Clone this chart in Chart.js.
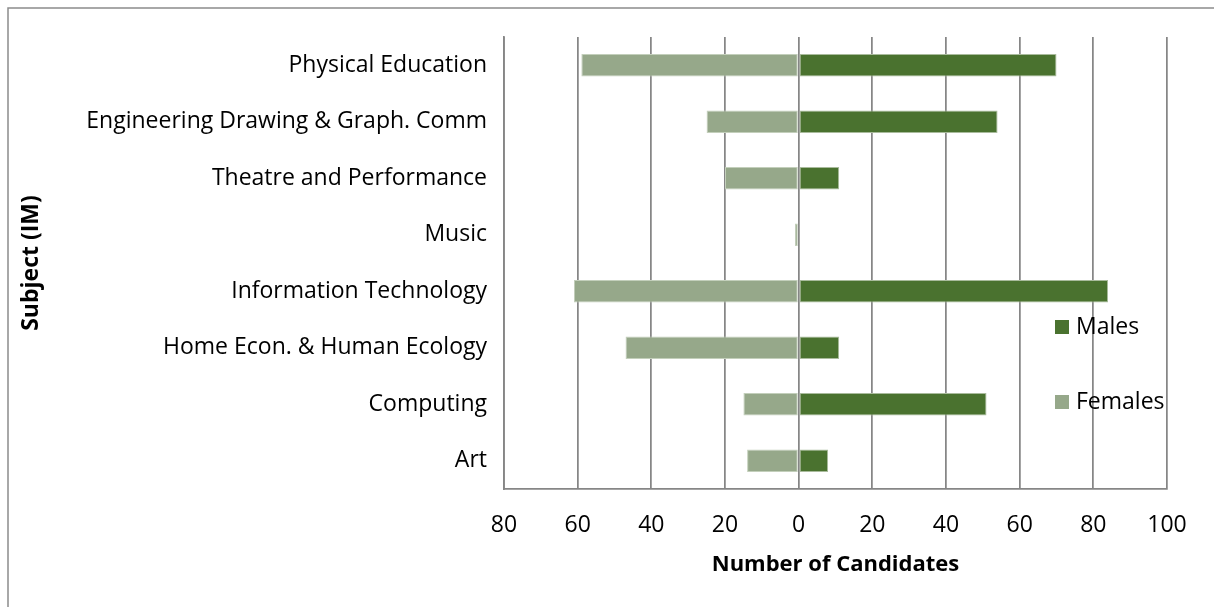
<!DOCTYPE html>
<html>
<head>
<meta charset="utf-8">
<script src="https://cdn.jsdelivr.net/npm/chart.js@4/dist/chart.umd.min.js"></script>
<style>
  html, body { margin: 0; padding: 0; background: #fff; }
  #wrap { position: relative; width: 1214px; height: 607px; }
</style>
</head>
<body>
<div id="wrap"><canvas id="c" width="1214" height="607"></canvas></div>
<script>
// Categories, top to bottom
const subjects = [
  'Physical Education',
  'Engineering Drawing & Graph. Comm',
  'Theatre and Performance',
  'Music',
  'Information Technology',
  'Home Econ. & Human Ecology',
  'Computing',
  'Art'
];
// Number of candidates
const males   = [70, 54, 11, 0, 84, 11, 51, 8];
const females = [59, 25, 20, 1, 61, 47, 15, 14];
const seriesNames = ['Males', 'Females'];
const xTicks = [-80, -60, -40, -20, 0, 20, 40, 60, 80, 100];

const FONT = '"Open Sans"';
const GRID = '#868686';
const MALE_COLOR = '#4a722f';
const FEMALE_COLOR = '#96a88a';

const frame = {
  id: 'frame',
  beforeDraw(chart) {
    const ctx = chart.ctx;
    ctx.save();
    ctx.strokeStyle = '#8c8c8c';
    ctx.lineWidth = 1.5;
    ctx.beginPath();
    ctx.moveTo(8, 607);
    ctx.lineTo(8, 8);
    ctx.lineTo(1214, 8);
    ctx.stroke();
    ctx.restore();
  }
};

const sideLegend = {
  id: 'sideLegend',
  afterDraw(chart) {
    const ctx = chart.ctx;
    const ys = [327, 402];
    ctx.save();
    ctx.font = '23px ' + FONT;
    ctx.textBaseline = 'middle';
    ctx.textAlign = 'left';
    chart.data.datasets.forEach((ds, i) => {
      ctx.fillStyle = ds.backgroundColor;
      ctx.fillRect(1055, ys[i] - 7, 14, 14);
      ctx.fillStyle = '#000';
      ctx.fillText(ds.label, 1076, ys[i]);
    });
    ctx.restore();
  }
};

new Chart(document.getElementById('c'), {
  type: 'bar',
  data: {
    labels: subjects,
    datasets: [
      {
        label: seriesNames[0],
        data: males,
        backgroundColor: MALE_COLOR,
        borderColor: '#a9bb9c',
        borderWidth: 1,
        borderSkipped: false,
        categoryPercentage: 1,
        barPercentage: 0.4
      },
      {
        label: seriesNames[1],
        data: females.map(v => -v),
        backgroundColor: FEMALE_COLOR,
        borderColor: '#c3cfbb',
        borderWidth: 1,
        borderSkipped: false,
        categoryPercentage: 1,
        barPercentage: 0.4
      }
    ]
  },
  options: {
    indexAxis: 'y',
    responsive: false,
    animation: false,
    devicePixelRatio: 1,
    layout: { padding: { left: 10, top: 37, right: 47, bottom: 25 } },
    plugins: {
      legend: { display: false },
      tooltip: { enabled: false },
      title: { display: false }
    },
    scales: {
      x: {
        stacked: true,
        min: xTicks[0],
        max: xTicks[xTicks.length - 1],
        afterBuildTicks(scale) { scale.ticks = xTicks.map(v => ({ value: v })); },
        afterFit(scale) { scale.height = 93; },
        ticks: {
          color: '#000',
          font: { family: FONT, size: 23 },
          padding: 23,
          maxRotation: 0,
          callback: v => Math.abs(v)
        },
        grid: { color: GRID, lineWidth: 1.75, drawTicks: false },
        border: { display: true, color: GRID, width: 1.75 },
        title: {
          display: true,
          text: 'Number of Candidates',
          color: '#000',
          font: { family: FONT, size: 22, weight: 'bold' },
          padding: { top: 12, bottom: 4 }
        }
      },
      y: {
        stacked: true,
        afterFit(scale) { scale.width = 494; },
        ticks: {
          color: '#000',
          font: { family: FONT, size: 23 },
          padding: 17
        },
        grid: { display: false, drawTicks: false },
        border: { display: true, color: GRID, width: 1.75 },
        title: {
          display: true,
          text: 'Subject (IM)',
          color: '#000',
          font: { family: FONT, size: 23, weight: 'bold' },
          padding: { top: 8, bottom: 0 }
        }
      }
    }
  },
  plugins: [frame, sideLegend]
});
</script>
</body>
</html>
